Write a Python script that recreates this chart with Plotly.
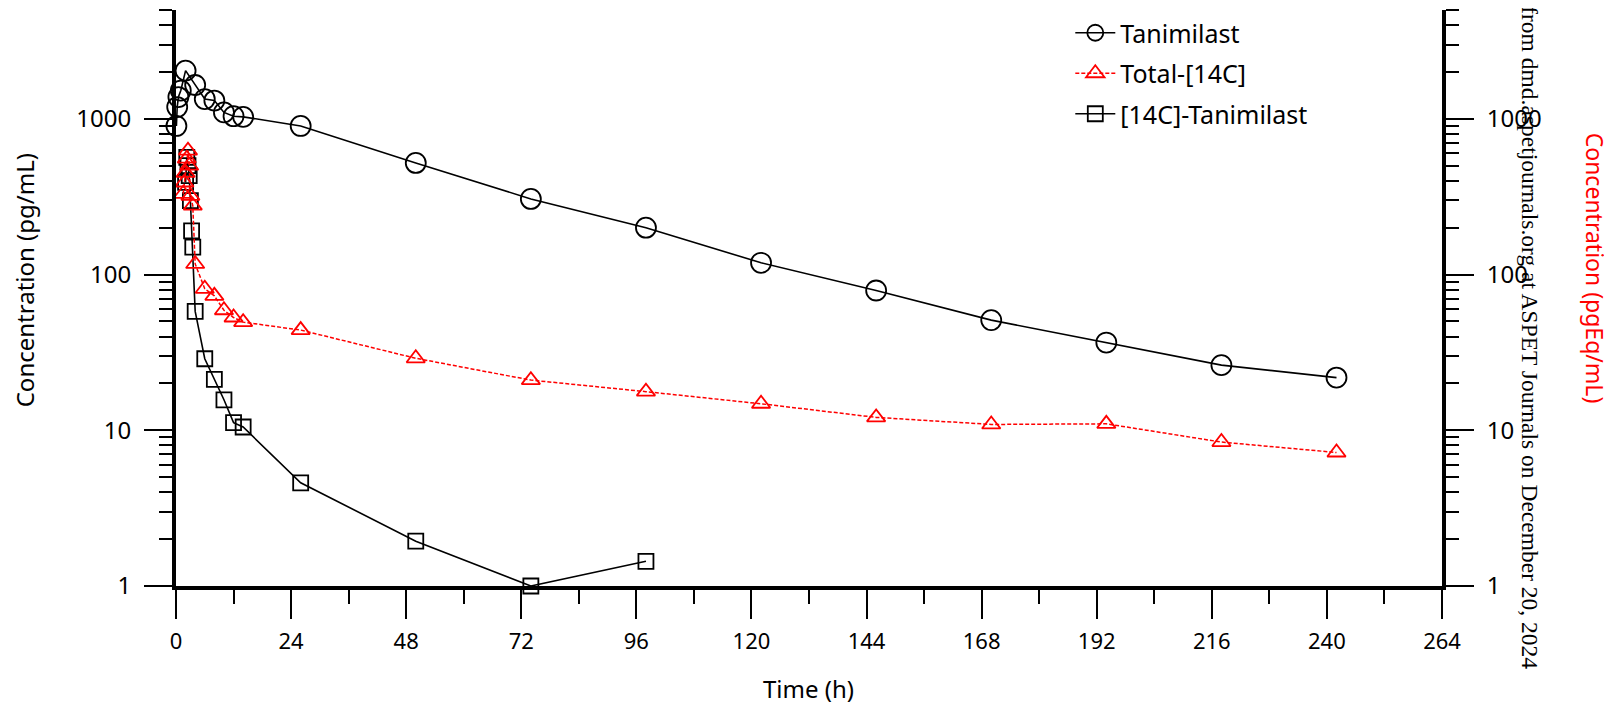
import plotly.graph_objects as go

# ---------------- data ----------------
tan_time = [0.083, 0.25, 0.5, 1, 2, 4, 6, 8, 10, 12, 14, 26, 50, 74, 98, 122, 146, 170, 194, 218, 242]
tan_conc = [900, 1190, 1380, 1520, 2040, 1650, 1340, 1310, 1100, 1040, 1030, 900, 521, 306, 200, 119, 79, 51, 36.6, 26.2, 21.8]

tot_time = [1.5, 1.75, 2, 2.25, 2.5, 2.75, 3, 3.5, 4, 6, 8, 10, 12, 14, 26, 50, 74, 98, 122, 146, 170, 194, 218, 242]
tot_conc = [330, 390, 450, 555, 625, 500, 320, 277, 117, 81, 73, 59, 53, 49.5, 44, 29, 21, 17.7, 14.8, 12.1, 10.9, 11.0, 8.4, 7.2]

c14_time = [2, 2.25, 2.5, 2.75, 3, 3.25, 3.5, 4, 6, 8, 10, 12, 14, 26, 50, 74, 98]
c14_conc = [391, 566, 500, 432, 298, 191, 150, 58, 28.8, 21.2, 15.7, 11.2, 10.5, 4.6, 1.94, 1.0, 1.44]

x_ticks = [0, 24, 48, 72, 96, 120, 144, 168, 192, 216, 240, 264]
y_ticks = [1, 10, 100, 1000]
y_ticktext = ["1", "10", "100", "1000"]

# ---------------- geometry (page pixels) ----------------
W, H = 1612, 710
OFF = 8  # default body margin of the html page
L, R, T, B = 175.7, 1441.7, 10, 586
PW, PH = R - L, B - T


def px(xp):
    return (xp - L) / PW


def py(yp):
    return (B - yp) / PH


FONT = "Noto Sans"

fig = go.Figure()

fig.add_trace(go.Scatter(
    x=c14_time, y=c14_conc, name="[14C]-Tanimilast", mode="lines+markers",
    line=dict(color="black", width=1.6),
    marker=dict(symbol="square-open", size=15, color="black", line=dict(width=1.8, color="black")),
    cliponaxis=False, legendrank=3, legendgroup="c",
))
fig.add_trace(go.Scatter(
    x=tot_time, y=tot_conc, name="Total-[14C]", mode="lines+markers",
    line=dict(color="red", width=1.5, dash="4px,2px"),
    marker=dict(symbol="triangle-up-open", size=16, color="red", line=dict(width=1.8, color="red")),
    cliponaxis=False, legendrank=2, legendgroup="b",
))
fig.add_trace(go.Scatter(
    x=tan_time, y=tan_conc, name="Tanimilast", mode="lines+markers",
    line=dict(color="black", width=1.6),
    marker=dict(symbol="circle-open", size=20, color="black", line=dict(width=1.8, color="black")),
    cliponaxis=False, legendrank=1, legendgroup="a",
))
# invisible trace to establish the right axis
fig.add_trace(go.Scatter(x=[0], y=[1], yaxis="y2", mode="markers",
                         marker=dict(opacity=0), showlegend=False, hoverinfo="skip"))

axis_common = dict(
    showgrid=False, zeroline=False, showline=True, linecolor="black", linewidth=4,
    ticks="outside", tickcolor="black", tickwidth=1.5,
)

fig.update_layout(
    width=W - OFF, height=H - OFF,
    margin=dict(l=L - OFF, r=W - R, t=T - OFF, b=H - B, pad=0),
    paper_bgcolor="white", plot_bgcolor="white",
    font=dict(family=FONT, color="black", size=24),
    showlegend=True,
    legend=dict(
        x=px(1070), y=py(10), xanchor="left", yanchor="top",
        font=dict(family=FONT, size=25, color="black"),
        bgcolor="rgba(0,0,0,0)", tracegroupgap=5, itemwidth=40,
    ),
    xaxis=dict(
        **axis_common, range=[0, 264], tickvals=x_ticks, ticklen=29,
        tickfont=dict(family=FONT, size=22, color="black"),
        minor=dict(dtick=12, tick0=0, ticks="outside", ticklen=14, tickwidth=1.5, tickcolor="black"),
        ticklabelstandoff=4,
    ),
    yaxis=dict(
        **axis_common, type="log", range=[0, 3.69897], tickvals=y_ticks, ticktext=y_ticktext,
        ticklen=28, tickfont=dict(family=FONT, size=24, color="black"),
        minor=dict(dtick="D1", ticks="outside", ticklen=13, tickwidth=1.5, tickcolor="black"),
        ticklabelstandoff=8,
    ),
    yaxis2=dict(
        **axis_common, type="log", range=[0, 3.69897], tickvals=y_ticks, ticktext=y_ticktext,
        overlaying="y", side="right", ticklen=28,
        tickfont=dict(family=FONT, size=24, color="black"),
        minor=dict(dtick="D1", ticks="outside", ticklen=13, tickwidth=1.5, tickcolor="black"),
        ticklabelstandoff=8,
    ),
)

annotations = [
    dict(text="Concentration (pg/mL)", x=px(24), y=py(280), textangle=-90,
         font=dict(family=FONT, size=24, color="black")),
    dict(text="Concentration (pgEq/mL)", x=px(1595), y=py(268), textangle=90,
         font=dict(family=FONT, size=23, color="red")),
    dict(text="Time (h)", x=px(808), y=py(688),
         font=dict(family=FONT, size=24, color="black")),
    dict(text="from dmd.aspetjournals.org at ASPET Journals on December 20, 2024",
         x=px(1529), y=py(4), yanchor="top", textangle=90,
         font=dict(family="Liberation Serif", size=23.5, color="black")),
]
for a in annotations:
    a.update(xref="paper", yref="paper", showarrow=False)
    a.setdefault("xanchor", "center")
    a.setdefault("yanchor", "middle")
fig.update_layout(annotations=annotations)

fig.write_html("out.html")
